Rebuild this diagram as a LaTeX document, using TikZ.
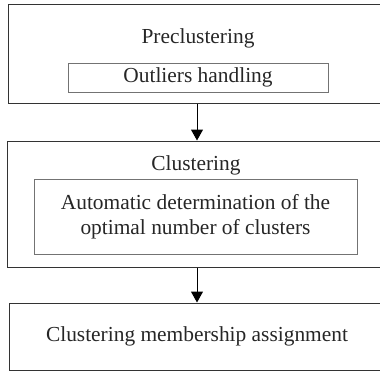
\documentclass[tikz,border=0pt]{standalone}
\usepackage{fontspec}
\setmainfont{Liberation Serif}
\usetikzlibrary{arrows.meta}
\tikzset{
  outerbox/.style={draw=black!80, line width=1pt, inner sep=0pt},
  innerbox/.style={draw=black!55, line width=1pt, inner sep=0pt, align=center},
  title/.style={anchor=base, inner sep=0pt},
  flow/.style={draw=black, line width=1pt, -{Triangle[width=12pt,length=11pt]}}
}
\begin{document}
\begin{tikzpicture}[x=1pt, y=-1pt, font=\fontsize{21.4}{25}\selectfont, text=black!85]
        \clip (0,0) rectangle (380,372);

        % preclustering
        \node[outerbox, minimum width=378pt, minimum height=99pt] (pre) at (197,53.5) {};
        \node[title] (pretitle) at (198,43) {Preclustering};
        \node[innerbox, minimum width=260pt, minimum height=29pt] (outl) at (198,77.5) {Outliers handling};

        % clustering
        \node[outerbox, minimum width=380pt, minimum height=126pt] (clu) at (197,204) {};
        \node[title] (clutitle) at (196,170) {Clustering};
        \node[innerbox, minimum width=323pt, minimum height=75pt] (auto) at (195.5,216.5)
            {Automatic determination of the\\optimal number of clusters};

        % membership
        \node[outerbox, minimum width=376pt, minimum height=67pt] (memb) at (197,336.5)
            {Clustering membership assignment};

        \draw[flow] (pre) -- (clu);
        \draw[flow] (clu) -- (memb);
\end{tikzpicture}
\end{document}
